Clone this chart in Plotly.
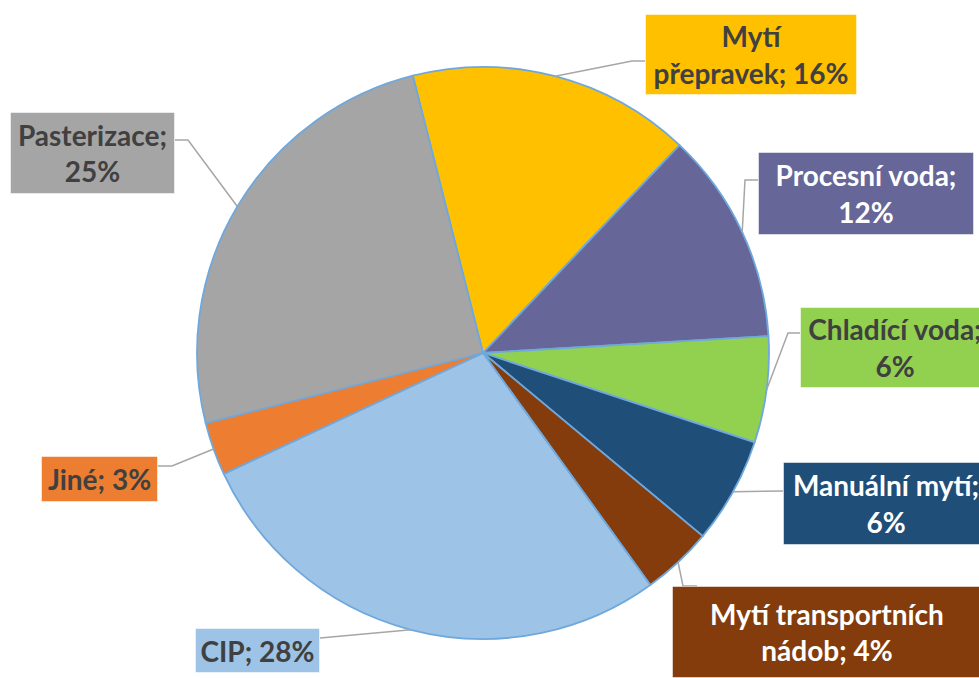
import math
import plotly.graph_objects as go

# ---- data ----
labels = ["Mytí přepravek", "Procesní voda", "Chladící voda", "Manuální mytí",
          "Mytí transportních nádob", "CIP", "Jiné", "Pasterizace"]
values = [16, 12, 6, 6, 4, 28, 3, 25]
label_texts = ["Mytí<br>přepravek; 16%", "Procesní voda;<br>12%", "Chladící voda;<br>6%",
               "Manuální mytí;<br>6%", "Mytí transportních<br>nádob; 4%", "CIP; 28%",
               "Jiné; 3%", "Pasterizace;<br>25%"]
colors = ["#FFC000", "#666699", "#92D050", "#1F4E79", "#843C0C", "#9DC3E6", "#ED7D31", "#A5A5A5"]
text_colors = ["#404040", "#FFFFFF", "#404040", "#FFFFFF", "#FFFFFF", "#404040", "#404040", "#404040"]

# ---- layout geometry (pixels) ----
W, H = 979, 678
CX, CY, R = 483, 353, 286
ROT = -14.2

# label boxes: (left, top, width, height)
boxes = [
    (645, 14, 212, 81),
    (758, 152, 216, 83),
    (800, 307, 190, 81),
    (783, 462, 206, 83),
    (672, 586, 310, 92),
    (195, 628, 125, 45),
    (41, 456, 117, 46),
    (10, 112, 165, 82),
]
# leader elbows (pixels): list of points after pie edge point
elbows = [
    [(632, 61), (645, 61)],
    [(745, 180), (758, 180)],
    [(788, 333), (800, 333)],
    [(783, 491)],
    [(683, 586), (697, 586)],
    [(320, 638)],
    [(172, 466), (158, 466)],
    [(188, 140), (175, 140)],
]


def px(x):
    return x / W


def py(y):
    return 1 - y / H


fig = go.Figure()
fig.add_trace(go.Pie(
    labels=labels, values=values, sort=False, direction="clockwise", rotation=ROT,
    marker=dict(colors=colors, line=dict(color="#6FA8DC", width=1.8)),
    textinfo="none", hoverinfo="label+percent", showlegend=False,
    domain=dict(x=[px(CX - R), px(CX + R)], y=[py(CY + R), py(CY - R)]),
))

total = sum(values)
cum = 0
shapes = []
annotations = []
for i, v in enumerate(values):
    mid = ROT + 360 * (cum + v / 2) / total
    cum += v
    a = math.radians(mid)
    ex, ey = CX + R * math.sin(a), CY - R * math.cos(a)
    pts = [(ex, ey)] + elbows[i]
    path = "M " + " L ".join(f"{px(x):.5f},{py(y):.5f}" for x, y in pts)
    shapes.append(dict(type="path", xref="paper", yref="paper", path=path,
                       line=dict(color="#A6A6A6", width=1.5)))
    l, t, w, h = boxes[i]
    annotations.append(dict(
        xref="paper", yref="paper", x=px(l + w / 2), y=py(t + h / 2),
        xanchor="center", yanchor="middle", showarrow=False,
        text=f"<b>{label_texts[i]}</b>", align="center", valign="middle",
        width=w - 2, height=h - 2, borderpad=0, borderwidth=1,
        bordercolor="rgba(255,255,255,0.5)", bgcolor=colors[i],
        font=dict(family="Lato, 'Open Sans', sans-serif", size=28, color=text_colors[i]),
    ))

fig.update_layout(
    width=W, height=H, margin=dict(l=0, r=0, t=0, b=0),
    paper_bgcolor="white", plot_bgcolor="white",
    shapes=shapes, annotations=annotations,
)
fig.write_html(
    "out.html",
    config={"displayModeBar": False},
    post_script="document.body.style.margin='0';document.body.style.overflow='hidden';",
)
